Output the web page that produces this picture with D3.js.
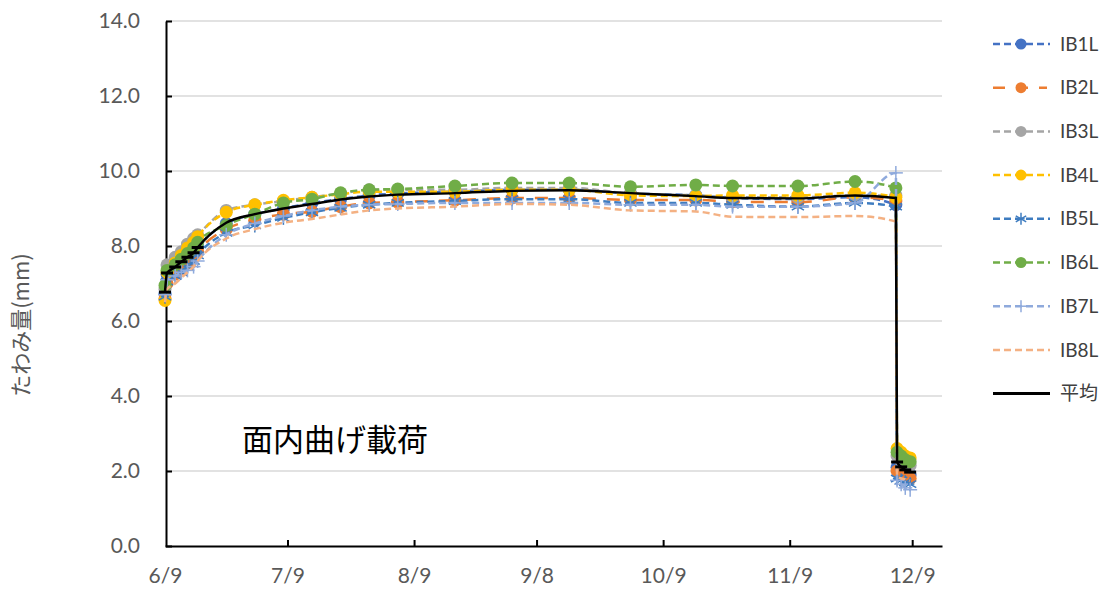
<!DOCTYPE html>
<html><head><meta charset="utf-8">
<script src="https://cdn.jsdelivr.net/npm/d3@7"></script>
<style>
html,body{margin:0;padding:0;background:#fff;}
svg{display:block;font-family:Lato,"Noto Sans CJK JP",sans-serif;}
.tk text{font-family:Lato,sans-serif;font-size:21px;fill:#595959;}
.lgt{font-family:Lato,sans-serif;font-size:19px;fill:#404040;}
</style></head>
<body><svg id="c" width="1105" height="591"></svg>
<script>
// days since 6/9
const days = [0,0.5,2.5,4,5.5,7,8,15,22,29,36,43,50,57,71,85,99,114,130,139,155,169,179,179.3,180.3,181.3,182.5];
const IB1L = [6.75,7.25,7.45,7.6,7.72,7.85,7.98,8.6,8.85,9.0,9.15,9.25,9.35,9.4,9.45,9.5,9.5,9.4,9.35,9.28,9.25,9.3,9.1,2.1,2.0,1.95,1.9];
const IB2L = [6.6,7.0,7.25,7.4,7.55,7.7,7.85,8.45,8.7,8.85,8.92,9.05,9.15,9.17,9.22,9.28,9.28,9.23,9.23,9.18,9.17,9.3,9.2,2.0,1.9,1.85,1.8];
const IB3L = [6.85,7.5,7.7,7.85,8.05,8.2,8.3,8.95,9.1,9.2,9.3,9.4,9.5,9.5,9.5,9.55,9.55,9.4,9.35,9.3,9.3,9.35,9.35,2.4,2.3,2.2,2.15];
const IB4L = [6.55,7.3,7.55,7.75,7.95,8.1,8.25,8.9,9.1,9.22,9.3,9.38,9.45,9.45,9.45,9.5,9.5,9.35,9.33,9.35,9.35,9.42,9.3,2.6,2.5,2.4,2.35];
const IB5L = [6.65,7.05,7.2,7.3,7.45,7.6,7.75,8.35,8.55,8.75,8.9,9.02,9.1,9.15,9.2,9.25,9.25,9.15,9.15,9.1,9.05,9.15,9.05,1.8,1.75,1.7,1.65];
const IB6L = [6.95,7.35,7.5,7.65,7.8,7.95,8.1,8.55,8.85,9.15,9.25,9.42,9.5,9.52,9.6,9.68,9.68,9.58,9.63,9.6,9.6,9.72,9.55,2.5,2.4,2.3,2.25];
const IB7L = [6.7,7.1,7.2,7.3,7.35,7.45,7.6,8.3,8.6,8.8,8.95,9.05,9.1,9.12,9.15,9.15,9.15,9.1,9.1,9.05,9.05,9.15,9.95,1.75,1.65,1.55,1.5];
const IB8L = [6.5,6.85,7.0,7.15,7.3,7.45,7.6,8.2,8.45,8.62,8.72,8.84,8.95,9.0,9.05,9.12,9.1,8.95,8.92,8.78,8.77,8.8,8.65,1.85,1.8,1.78,1.75];
const avg  = [6.77,7.28,7.44,7.58,7.7,7.82,7.96,8.62,8.85,9.0,9.12,9.24,9.32,9.37,9.41,9.47,9.49,9.41,9.33,9.28,9.27,9.35,9.28,2.24,2.11,2.03,1.97];
const avgMarked = [0,1,2,3,4,5,6,23,24,25,26];
const seriesNames = ["IB1L","IB2L","IB3L","IB4L","IB5L","IB6L","IB7L","IB8L","平均"];
const xTickDays = [0,30,61,91,122,153,183];
const xTickLabels = ["6/9","7/9","8/9","9/8","10/9","11/9","12/9"];
const yTicks = [0,2,4,6,8,10,12,14];

const series = [
  {name:"IB1L", v:IB1L, color:"#4472C4", marker:"circle", dash:"7,4"},
  {name:"IB2L", v:IB2L, color:"#ED7D31", marker:"circle", dash:"13,11"},
  {name:"IB3L", v:IB3L, color:"#A5A5A5", marker:"circle", dash:"7,4"},
  {name:"IB4L", v:IB4L, color:"#FFC000", marker:"circle", dash:"7,4"},
  {name:"IB5L", v:IB5L, color:"#3E7CC0", marker:"star", dash:"7,4"},
  {name:"IB6L", v:IB6L, color:"#70AD47", marker:"circle", dash:"7,4"},
  {name:"IB7L", v:IB7L, color:"#8FAADC", marker:"plus", dash:"7,4"},
  {name:"IB8L", v:IB8L, color:"#F4B183", marker:"none", dash:"7,4"},
];

const svg = d3.select("#c");
const x = d3.scaleLinear().domain([0,190.3]).range([165,942]);
const y = d3.scaleLinear().domain([0,14]).range([546,21]);

// gridlines
svg.append("g").selectAll("line").data(yTicks.filter(d=>d>0)).join("line")
  .attr("x1",166).attr("x2",942).attr("y1",d=>y(d)).attr("y2",d=>y(d))
  .attr("stroke","#D9D9D9").attr("stroke-width",1.3);

// axes
const yAxis = d3.axisLeft(y).tickValues(yTicks).tickFormat(d3.format(".1f")).tickSizeInner(-6).tickSizeOuter(0).tickPadding(26);
const gy = svg.append("g").attr("class","tk").attr("transform","translate(166,0)").call(yAxis);
gy.select(".domain").attr("stroke","#000").attr("stroke-width",2);
gy.selectAll(".tick line").attr("stroke","#000").attr("stroke-width",2);

const xAxis = d3.axisBottom(x).tickValues(xTickDays).tickFormat((d,i)=>xTickLabels[i]).tickSizeInner(-6).tickSizeOuter(0).tickPadding(22);
const gx = svg.append("g").attr("class","tk").attr("transform","translate(0,546)").call(xAxis);
gx.select(".domain").attr("stroke","#000").attr("stroke-width",2);
gx.selectAll(".tick line").attr("stroke","#000").attr("stroke-width",2);
gx.selectAll(".tick").filter(d=>d===0).select("line").remove();

// y title
svg.append("text").attr("transform","translate(29,325) rotate(-90)")
  .attr("text-anchor","middle").style("font-size","22px").attr("fill","#595959")
  .style("font-family","'Noto Sans CJK JP',sans-serif").text("たわみ量(mm)");

const line = d3.line().x((d,i)=>x(days[i])).y(d=>y(d)).curve(d3.curveMonotoneX);

function drawMarker(g, type, cx, cy, color, r){
  if(type==="circle"){
    g.append("circle").attr("cx",cx).attr("cy",cy).attr("r",r).attr("fill",color);
  } else if(type==="star"){
    const s=r;
    [[0,1],[0.87,0.5],[0.87,-0.5]].forEach(([a,b])=>{
      g.append("line").attr("x1",cx-a*s).attr("y1",cy-b*s).attr("x2",cx+a*s).attr("y2",cy+b*s)
       .attr("stroke",color).attr("stroke-width",1.5);
    });
    g.append("line").attr("x1",cx-s*0.6).attr("x2",cx+s*0.6).attr("y1",cy).attr("y2",cy).attr("stroke",color).attr("stroke-width",1.5);
  } else if(type==="plus"){
    g.append("line").attr("x1",cx-r).attr("x2",cx+r).attr("y1",cy).attr("y2",cy).attr("stroke",color).attr("stroke-width",1.5);
    g.append("line").attr("x1",cx).attr("x2",cx).attr("y1",cy-r).attr("y2",cy+r).attr("stroke",color).attr("stroke-width",1.5);
  }
}

series.forEach(s=>{
  const g = svg.append("g");
  g.append("path").datum(s.v).attr("d",line).attr("fill","none")
   .attr("stroke",s.color).attr("stroke-width",2.5).attr("stroke-dasharray",s.dash);
  if(s.marker!=="none"){
    s.v.forEach((v,i)=>drawMarker(g,s.marker,x(days[i]),y(v),s.color,s.marker==="circle"?6.5:7));
  }
});

// average
const ga = svg.append("g");
ga.append("path").datum(avg).attr("d",line).attr("fill","none").attr("stroke","#000").attr("stroke-width",2.5);
avgMarked.forEach(i=>{
  ga.append("line").attr("x1",x(days[i])-6).attr("x2",x(days[i])+6)
    .attr("y1",y(avg[i])).attr("y2",y(avg[i])).attr("stroke","#000").attr("stroke-width",3);
});

// annotation
svg.append("text").attr("x",242).attr("y",451).style("font-size","31px").attr("fill","#000")
  .style("font-family","'Noto Sans CJK JP',sans-serif").text("面内曲げ載荷");

// legend
const lg = svg.append("g");
const legendItems = series.concat([{name:"平均", color:"#000", marker:"none", dash:null}]);
legendItems.forEach((s,i)=>{
  const yy = 44 + i*43.7;
  lg.append("line").attr("x1",993).attr("x2",s.name==="IB2L"?1047:1050).attr("y1",yy).attr("y2",yy)
    .attr("stroke",s.color).attr("stroke-width",s.dash?2.5:3)
    .attr("stroke-dasharray",s.dash ? (s.name==="IB2L"?"12,11":"7,4") : null);
  if(s.marker!=="none") drawMarker(lg,s.marker,1021,yy,s.color,s.marker==="circle"?5.5:6);
  const t = lg.append("text").attr("class","lgt").attr("x",1060).attr("y",yy).attr("dy","0.35em").text(s.name);
  if(s.name==="平均") t.style("font-family","'Noto Sans CJK JP',sans-serif");
});
</script></body></html>
